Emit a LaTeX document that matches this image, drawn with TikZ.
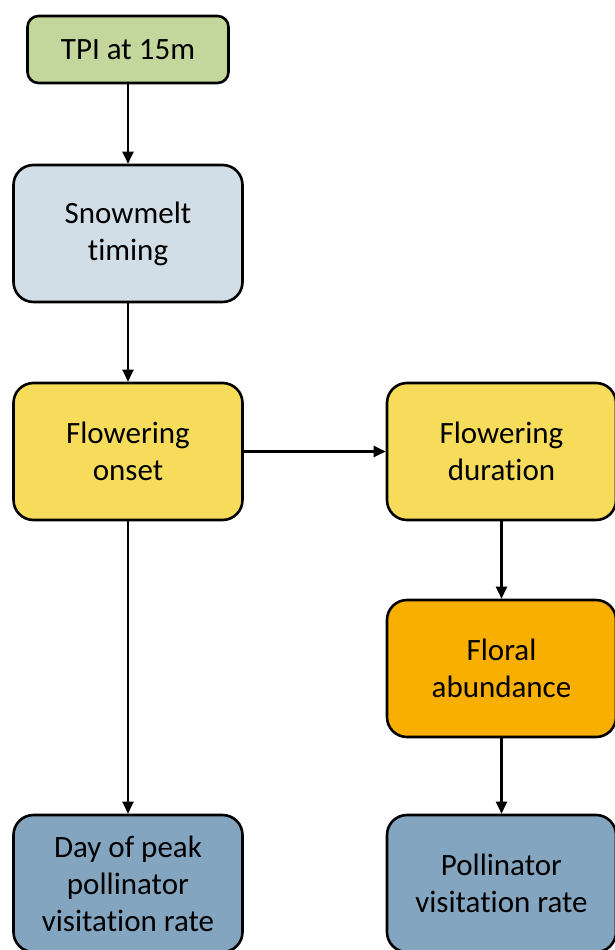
\documentclass[tikz,border=0pt]{standalone}
\usepackage{fontspec}
\setmainfont[Ligatures=NoCommon]{Carlito}
\usetikzlibrary{arrows.meta}
\definecolor{cgreen}{HTML}{C3D69B}
\definecolor{clblue}{HTML}{D2DEE7}
\definecolor{cyellow}{HTML}{F6DC5A}
\definecolor{corange}{HTML}{F9AF00}
\definecolor{cgblue}{HTML}{84A5BF}
\begin{document}
\begin{tikzpicture}[x=1pt,y=-1pt,
  box/.style={draw=black,line width=2.6pt,rounded corners=20pt,minimum width=229pt,minimum height=137pt,inner sep=0pt,align=center,font=\fontsize{31}{37}\selectfont},
  arr/.style={line width=2.2pt,-{Triangle[length=12pt,width=11pt]}}]
\useasboundingbox (0,0) rectangle (615,950);
\node[box,fill=cgreen,minimum width=201pt,minimum height=67pt,rounded corners=11pt] (tpi) at (128,49.5) {TPI at 15m};
\node[box,fill=clblue] (snow) at (128,233.5) {Snowmelt\\timing};
\node[box,fill=cyellow] (onset) at (128,451.5) {Flowering\\onset};
\node[box,fill=cyellow] (dur) at (501.5,451.5) {Flowering\\duration};
\node[box,fill=corange] (floral) at (501.5,668.5) {Floral\\abundance};
\node[box,fill=cgblue] (poll) at (501.5,883.5) {Pollinator\\visitation rate};
\node[box,fill=cgblue] (peak) at (128,883.5) {Day of peak\\pollinator\\visitation rate};
\draw[arr] (tpi) -- (snow);
\draw[arr] (snow) -- (onset);
\draw[arr] (onset) -- (dur);
\draw[arr] (dur) -- (floral);
\draw[arr] (floral) -- (poll);
\draw[arr] (onset) -- (peak);
\end{tikzpicture}
\end{document}
